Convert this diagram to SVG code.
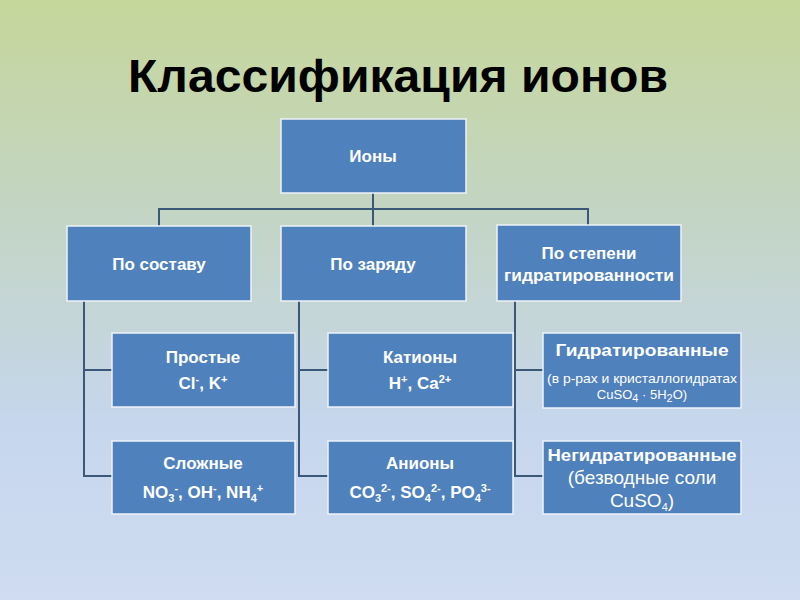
<svg xmlns="http://www.w3.org/2000/svg" width="800" height="600" viewBox="0 0 800 600">
<defs>
<linearGradient id="bg" x1="0" y1="0" x2="0" y2="1">
<stop offset="0" stop-color="#c6d79b"/>
<stop offset="0.35" stop-color="#c3d5c3"/>
<stop offset="0.7" stop-color="#c6d6ec"/>
<stop offset="1" stop-color="#cfdcf2"/>
</linearGradient>
<style>
.box{fill:#4f81bd;stroke:#eef2f8;stroke-width:1.5}
.t{font-family:"Liberation Sans",Arial,sans-serif;font-weight:bold;font-size:17px;fill:#ffffff;text-anchor:middle}
.n{font-family:"Liberation Sans",Arial,sans-serif;font-size:19px;fill:#ffffff;text-anchor:middle}
.s{font-family:"Liberation Sans",Arial,sans-serif;font-size:13px;fill:#ffffff;text-anchor:middle}
.c{fill:none;stroke:#3b5878;stroke-width:2}
.sub{font-size:11px}
</style>
</defs>
<rect width="800" height="600" fill="url(#bg)"/>
<text x="398" y="92" font-family="Liberation Sans,Arial,sans-serif" font-weight="bold" font-size="47" fill="#000" text-anchor="middle" textLength="540" lengthAdjust="spacingAndGlyphs">Классификация ионов</text>
<g id="connectors">
<path class="c" d="M373 193V227M159 227V209H588V226"/>
<path class="c" d="M84 301V476H112M84 370H112"/>
<path class="c" d="M299 301V476H328M299 370H328"/>
<path class="c" d="M515 301V476H543M515 370H543"/>
</g>
<g id="ions"><rect class="box" x="281" y="119" width="185" height="74"/><text class="t" x="373" y="162">Ионы</text></g>
<g id="po-sostavu"><rect class="box" x="67" y="226" width="184" height="75"/><text class="t" x="159" y="270">По составу</text></g>
<g id="po-zaryadu"><rect class="box" x="281" y="226" width="185" height="75"/><text class="t" x="373" y="270">По заряду</text></g>
<g id="po-stepeni"><rect class="box" x="497" y="225" width="184" height="76"/><text class="t" x="589" y="259">По степени</text><text class="t" x="589" y="281" textLength="170" lengthAdjust="spacingAndGlyphs">гидратированности</text></g>
<g id="prostye"><rect class="box" x="112" y="333" width="183" height="74"/><text class="t" x="203" y="363">Простые</text><text class="t" x="203" y="389">Cl<tspan class="sub" dy="-6">-</tspan><tspan dy="6">, K</tspan><tspan class="sub" dy="-6">+</tspan></text></g>
<g id="slozhnye"><rect class="box" x="112" y="441" width="183" height="73"/><text class="t" x="203" y="469">Сложные</text><text class="t" x="203" y="498">NO<tspan class="sub" dy="4">3</tspan><tspan class="sub" dy="-10">-</tspan><tspan dy="6">, OH</tspan><tspan class="sub" dy="-6">-</tspan><tspan dy="6">, NH</tspan><tspan class="sub" dy="4">4</tspan><tspan class="sub" dy="-10">+</tspan></text></g>
<g id="kationy"><rect class="box" x="328" y="333" width="185" height="74"/><text class="t" x="420" y="363">Катионы</text><text class="t" x="420" y="389">H<tspan class="sub" dy="-6">+</tspan><tspan dy="6">, Ca</tspan><tspan class="sub" dy="-6">2+</tspan></text></g>
<g id="aniony"><rect class="box" x="328" y="441" width="185" height="73"/><text class="t" x="420" y="469">Анионы</text><text class="t" x="420" y="498">CO<tspan class="sub" dy="4">3</tspan><tspan class="sub" dy="-10">2-</tspan><tspan dy="6">, SO</tspan><tspan class="sub" dy="4">4</tspan><tspan class="sub" dy="-10">2-</tspan><tspan dy="6">, PO</tspan><tspan class="sub" dy="4">4</tspan><tspan class="sub" dy="-10">3-</tspan></text></g>
<g id="gidratirovannye"><rect class="box" x="543" y="333" width="198" height="75"/><text class="t" x="642" y="356" font-size="19" textLength="173" lengthAdjust="spacingAndGlyphs">Гидратированные</text><text class="s" x="642" y="383" textLength="190" lengthAdjust="spacingAndGlyphs">(в р-рах и кристаллогидратах</text><text class="s" x="642" y="399">CuSO<tspan class="sub" font-size="9" dy="3">4</tspan><tspan dy="-3"> · 5H</tspan><tspan class="sub" font-size="9" dy="3">2</tspan><tspan dy="-3">O)</tspan></text></g>
<g id="negidratirovannye"><rect class="box" x="543" y="441" width="198" height="73"/><text class="t" x="642" y="461" font-size="20" textLength="189" lengthAdjust="spacingAndGlyphs">Негидратированные</text><text class="n" x="642" y="484">(безводные соли</text><text class="n" x="642" y="507">CuSO<tspan class="sub" font-size="12" dy="4">4</tspan><tspan dy="-4">)</tspan></text></g>
</svg>
